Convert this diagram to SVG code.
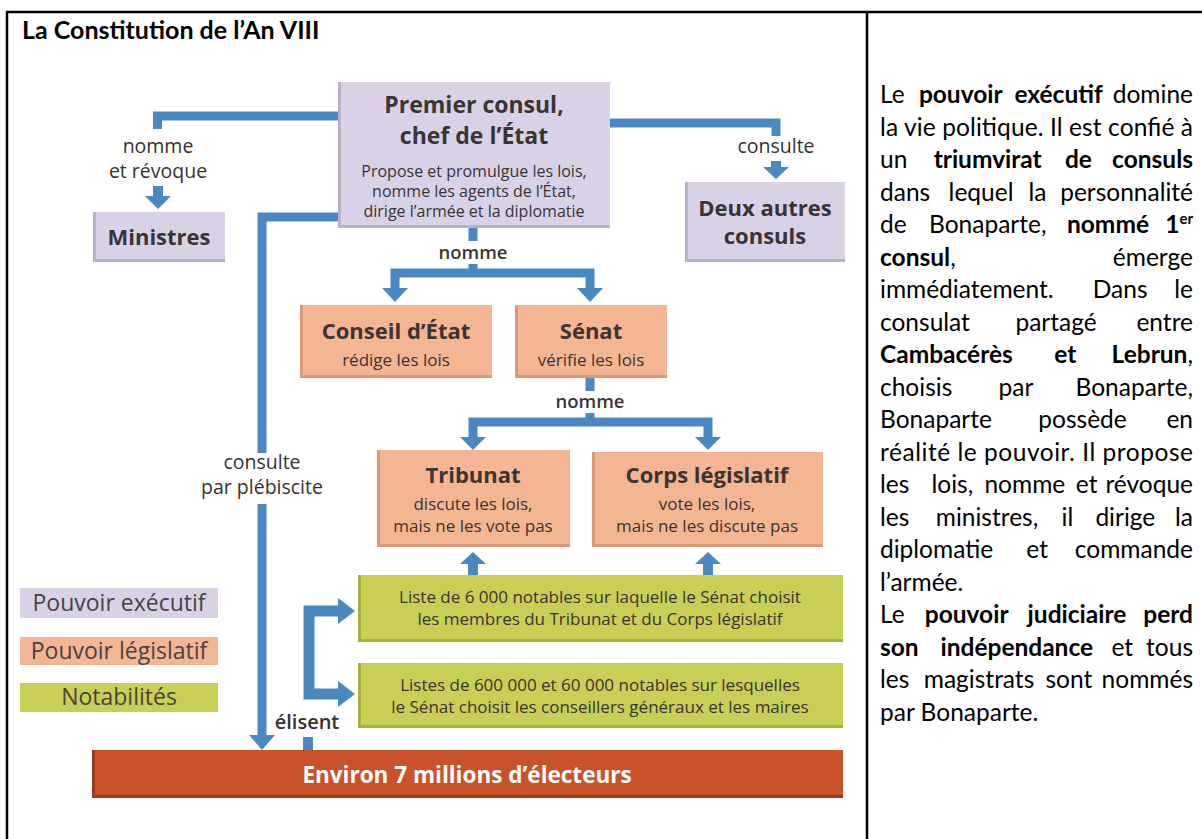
<svg xmlns="http://www.w3.org/2000/svg" width="1202" height="839" viewBox="0 0 1202 839">
<defs>
<style>
.t{font-family:"Open Sans","Noto Sans",sans-serif;fill:#3a3433;text-anchor:middle}
.h{font-weight:700;font-size:22px}
.h2{font-weight:700;font-size:23px}
.s{font-size:16px}
.m{font-size:17px}
.lab{font-size:19.5px;fill:#353030}
.sb{font-weight:600;font-size:18.5px}
.lg{font-size:23px;font-weight:400;fill:#4a4242}
.conn{fill:none;stroke:#4a89c0;stroke-width:9}
.ah{fill:#4a89c0}
.exe{fill:#d9d1e6}
.leg{fill:#f4b593}
.not{fill:#c9ce55}
.edge{fill:none;stroke-width:3}
.exe-e{stroke:#b8afca}
.leg-e{stroke:#d99878}
.not-e{stroke:#a9ae3c}
.p{font-family:Lato,"Liberation Sans",sans-serif;font-size:24.5px;fill:#000}
.b{font-weight:700}
.tab{stroke:#000;stroke-width:2.5;fill:none}
</style>
</defs>
<rect width="1202" height="839" fill="#fff"/>
<g id="table">
<path class="tab" d="M6,12 H1202 M7,12 V839 M867,12 V839"/>
<text x="22" y="39" style="font-family:Lato,'Liberation Sans',sans-serif;font-size:25px;font-weight:700;fill:#000">La Constitution de l’An VIII</text>
</g>

<g id="connectors">
<path class="conn" d="M338,116 H157.5 V129"/>
<text class="t lab" x="158" y="153">nomme</text>
<text class="t lab" x="158" y="178">et révoque</text>
<rect class="ah" x="153" y="186" width="10" height="11"/>
<polygon class="ah" points="145,196 171,196 158,209"/>

<path class="conn" d="M610,123 H776 V136"/>
<text class="t lab" x="776" y="153">consulte</text>
<rect class="ah" x="771" y="161" width="10" height="7"/>
<polygon class="ah" points="763,167 789,167 776,179"/>

<path class="conn" d="M338,217 H262 V453"/>
<text class="t lab" x="262" y="469">consulte</text>
<text class="t lab" x="262" y="494">par plébiscite</text>
<path class="conn" d="M262,504 V736"/>
<polygon class="ah" points="249,735 275,735 262,750"/>

<path class="conn" d="M473,228 V241"/>
<text class="t sb" x="473" y="259">nomme</text>
<path class="conn" d="M473,264 V273"/>
<path class="conn" d="M395,289 V273 H590 V289"/>
<polygon class="ah" points="382,288 408,288 395,302"/>
<polygon class="ah" points="577,288 603,288 590,302"/>

<path class="conn" d="M590,378 V391"/>
<text class="t sb" x="590" y="408">nomme</text>
<path class="conn" d="M590,413 V422"/>
<path class="conn" d="M473,438 V422 H708 V438"/>
<polygon class="ah" points="460,437 486,437 473,450"/>
<polygon class="ah" points="695,437 721,437 708,450"/>

<rect class="ah" x="468" y="563" width="10" height="12"/>
<polygon class="ah" points="460,564 486,564 473,552"/>
<rect class="ah" x="703" y="563" width="10" height="12"/>
<polygon class="ah" points="695,564 721,564 708,552"/>

<path class="conn" d="M340,611 H309 V694 H340" style="stroke-width:11"/>
<polygon class="ah" points="338,598 338,624 355,611"/>
<polygon class="ah" points="338,681 338,707 355,694"/>
<text class="t" x="307" y="729" style="font-size:20px;font-weight:600;fill:#353030">élisent</text>
<path class="conn" d="M308,737 V750" style="stroke-width:10"/>
</g>

<g id="premier-consul">
<rect class="exe" x="338" y="82" width="272" height="146"/>
<path class="edge exe-e" d="M339.5,82 V226.5 H610"/>
<text class="t h2" x="474" y="113">Premier consul,</text>
<text class="t h2" x="474" y="144">chef de l’État</text>
<text class="t s" x="474" y="177">Propose et promulgue les lois,</text>
<text class="t s" x="474" y="197">nomme les agents de l’État,</text>
<text class="t s" x="474" y="217">dirige l’armée et la diplomatie</text>
</g>

<g id="ministres">
<rect class="exe" x="93" y="212" width="132" height="50"/>
<path class="edge exe-e" d="M94.5,212 V260.5 H225"/>
<text class="t h" x="159" y="245">Ministres</text>
</g>

<g id="deux-consuls">
<rect class="exe" x="685" y="182" width="160" height="80"/>
<path class="edge exe-e" d="M686.5,182 V260.5 H845"/>
<text class="t h" x="765" y="216">Deux autres</text>
<text class="t h" x="765" y="244">consuls</text>
</g>

<g id="conseil-etat">
<rect class="leg" x="300" y="305" width="192" height="73"/>
<path class="edge leg-e" d="M301.5,305 V376.5 H492"/>
<text class="t h" x="396" y="339">Conseil d’État</text>
<text class="t m" x="396" y="366">rédige les lois</text>
</g>

<g id="senat">
<rect class="leg" x="515" y="305" width="152" height="73"/>
<path class="edge leg-e" d="M516.5,305 V376.5 H667"/>
<text class="t h" x="591" y="339">Sénat</text>
<text class="t m" x="591" y="366">vérifie les lois</text>
</g>

<g id="tribunat">
<rect class="leg" x="377" y="450" width="193" height="97"/>
<path class="edge leg-e" d="M378.5,450 V545.5 H570"/>
<text class="t h" x="473" y="483">Tribunat</text>
<text class="t m" x="473" y="510">discute les lois,</text>
<text class="t m" x="473" y="532">mais ne les vote pas</text>
</g>

<g id="corps-legislatif">
<rect class="leg" x="592" y="452" width="231" height="95"/>
<path class="edge leg-e" d="M593.5,452 V545.5 H823"/>
<text class="t h" x="707" y="483">Corps législatif</text>
<text class="t m" x="707" y="510">vote les lois,</text>
<text class="t m" x="707" y="532">mais ne les discute pas</text>
</g>

<g id="liste-6000">
<rect class="not" x="358" y="575" width="485" height="67"/>
<path class="edge not-e" d="M359.5,575 V640.5 H843"/>
<text class="t m" x="600" y="603">Liste de 6 000 notables sur laquelle le Sénat choisit</text>
<text class="t m" x="600" y="625">les membres du Tribunat et du Corps législatif</text>
</g>

<g id="listes-600000">
<rect class="not" x="358" y="663" width="485" height="65"/>
<path class="edge not-e" d="M359.5,663 V726.5 H843"/>
<text class="t m" x="600" y="691">Listes de 600 000 et 60 000 notables sur lesquelles</text>
<text class="t m" x="600" y="713">le Sénat choisit les conseillers généraux et les maires</text>
</g>

<g id="electeurs">
<rect x="92" y="750" width="751" height="48" fill="#c8532b"/>
<path d="M93.5,750 V796.5 H843" fill="none" stroke="#9e3b1c" stroke-width="3"/>
<text class="t" x="467" y="783" style="font-size:22.5px;font-weight:700;fill:#fff">Environ 7 millions d’électeurs</text>
</g>

<g id="legende">
<rect class="exe" x="20" y="588" width="198" height="30"/>
<text class="t lg" x="119" y="611">Pouvoir exécutif</text>
<rect class="leg" x="20" y="637" width="198" height="28"/>
<text class="t lg" x="119" y="659">Pouvoir législatif</text>
<rect class="not" x="20" y="683" width="198" height="29"/>
<text class="t lg" x="119" y="705">Notabilités</text>
</g>

<g id="texte">
<text class="p" y="103"><tspan x="880">Le</tspan><tspan class="b" x="957.8" text-anchor="middle"> pouvoir</tspan><tspan class="b" x="1055.6" text-anchor="middle"> exécutif</tspan><tspan x="1193" text-anchor="end"> domine</tspan></text>
<text class="p" x="880" y="135.5" textLength="313" lengthAdjust="spacing">la vie politique. Il est confié à</text>
<text class="p" y="168"><tspan x="880">un</tspan><tspan class="b" x="984.7" text-anchor="middle"> triumvirat</tspan><tspan class="b" x="1075.5" text-anchor="middle"> de</tspan><tspan class="b" x="1193" text-anchor="end"> consuls</tspan></text>
<text class="p" y="200.5"><tspan x="880">dans</tspan><tspan x="977.9" text-anchor="middle"> lequel</tspan><tspan x="1034.3" text-anchor="middle"> la</tspan><tspan x="1193" text-anchor="end"> personnalité</tspan></text>
<text class="p" y="233"><tspan x="880">de</tspan><tspan x="984.6" text-anchor="middle"> Bonaparte,</tspan><tspan class="b" x="1105" text-anchor="middle"> nommé</tspan><tspan class="b" x="1193" text-anchor="end"> 1<tspan font-size="15" dy="-9">er</tspan></tspan></text>
<text class="p" y="265.5"><tspan x="880"><tspan class="b">consul</tspan>,</tspan><tspan x="1193" text-anchor="end"> émerge</tspan></text>
<text class="p" y="298"><tspan x="880">immédiatement.</tspan><tspan x="1117" text-anchor="middle"> Dans</tspan><tspan x="1193" text-anchor="end"> le</tspan></text>
<text class="p" y="330.5"><tspan x="880">consulat</tspan><tspan x="1052.9" text-anchor="middle"> partagé</tspan><tspan x="1193" text-anchor="end"> entre</tspan></text>
<text class="p" y="363"><tspan class="b" x="880">Cambacérès</tspan><tspan class="b" x="1062.4" text-anchor="middle"> et</tspan><tspan x="1193" text-anchor="end"> <tspan class="b">Lebrun</tspan>,</tspan></text>
<text class="p" y="395.5"><tspan x="880">choisis</tspan><tspan x="1012.8" text-anchor="middle"> par</tspan><tspan x="1193" text-anchor="end"> Bonaparte,</tspan></text>
<text class="p" y="428"><tspan x="880">Bonaparte</tspan><tspan x="1079.4" text-anchor="middle"> possède</tspan><tspan x="1193" text-anchor="end"> en</tspan></text>
<text class="p" x="880" y="460.5" textLength="313" lengthAdjust="spacing">réalité le pouvoir. Il propose</text>
<text class="p" y="493"><tspan x="880">les</tspan><tspan x="949.3" text-anchor="middle"> lois,</tspan><tspan x="1021.7" text-anchor="middle"> nomme</tspan><tspan x="1083.5" text-anchor="middle"> et</tspan><tspan x="1193" text-anchor="end"> révoque</tspan></text>
<text class="p" y="525.5"><tspan x="880">les</tspan><tspan x="983.9" text-anchor="middle"> ministres,</tspan><tspan x="1064.3" text-anchor="middle"> il</tspan><tspan x="1122.2" text-anchor="middle"> dirige</tspan><tspan x="1193" text-anchor="end"> la</tspan></text>
<text class="p" y="558"><tspan x="880">diplomatie</tspan><tspan x="1034" text-anchor="middle"> et</tspan><tspan x="1193" text-anchor="end"> commande</tspan></text>
<text class="p" x="880" y="590.5">l’armée.</text>
<text class="p" y="623"><tspan x="880">Le</tspan><tspan class="b" x="963.7" text-anchor="middle"> pouvoir</tspan><tspan class="b" x="1074" text-anchor="middle"> judiciaire</tspan><tspan class="b" x="1193" text-anchor="end"> perd</tspan></text>
<text class="p" y="655.5"><tspan class="b" x="880">son</tspan><tspan class="b" x="1013.8" text-anchor="middle"> indépendance</tspan><tspan x="1119.2" text-anchor="middle"> et</tspan><tspan x="1193" text-anchor="end"> tous</tspan></text>
<text class="p" y="688"><tspan x="880">les</tspan><tspan x="975.9" text-anchor="middle"> magistrats</tspan><tspan x="1065.7" text-anchor="middle"> sont</tspan><tspan x="1193" text-anchor="end"> nommés</tspan></text>
<text class="p" x="880" y="720.5">par Bonaparte.</text>
</g>
</svg>
